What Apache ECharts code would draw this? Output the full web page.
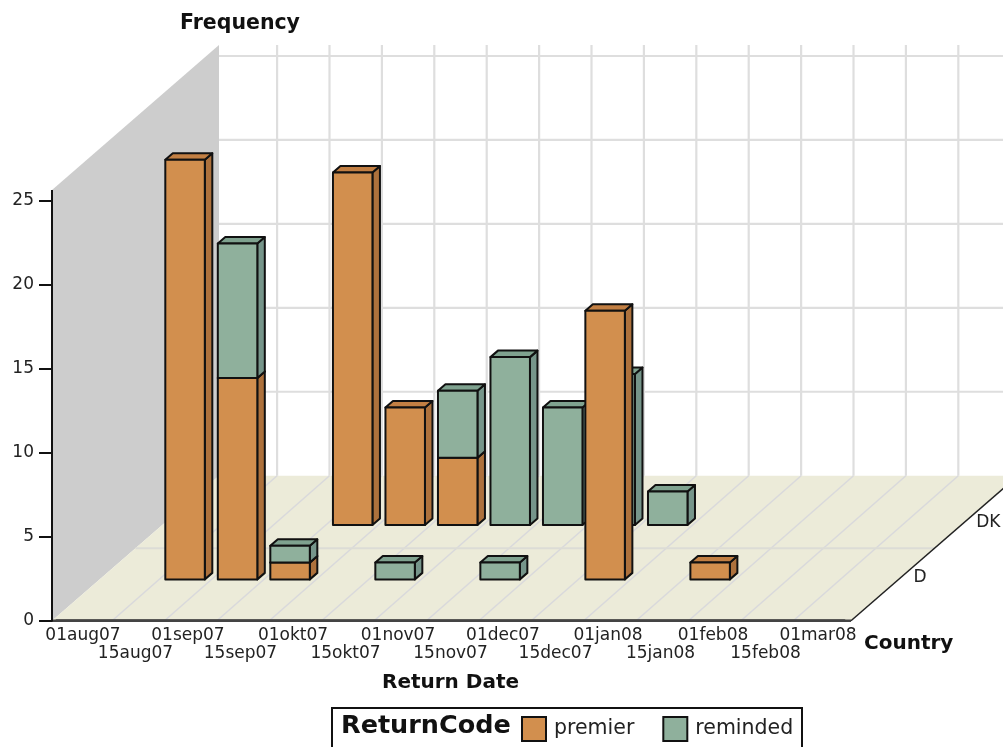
<!DOCTYPE html>
<html>
<head>
<meta charset="UTF-8">
<title>Frequency by Return Date</title>
<script src="https://cdn.jsdelivr.net/npm/echarts@6/dist/echarts.min.js"></script>
<style>
  html, body { margin: 0; padding: 0; background: #fff; overflow: hidden; }
  #myChart { width: 1003px; height: 747px; }
</style>
</head>
<body>
<div id="myChart"></div>
<script>
const dates = ['01aug07','15aug07','01sep07','15sep07','01okt07','15okt07','01nov07','15nov07',
               '01dec07','15dec07','01jan08','15jan08','01feb08','15feb08','01mar08'];
const countries = ['D', 'DK'];
const premierD    = [0,25,12,1,0,0,0,0,0,16,0,1,0,0,0];
const remindedD   = [0,0,8,1,0,1,0,1,0,0,0,0,0,0,0];
const premierDK   = [0,0,0,21,7,4,0,0,0,0,0,0,0,0,0];
const remindedDK  = [0,0,0,0,0,4,10,7,9,2,0,0,0,0,0];
const valueTicks  = [0, 25, 5];

// box depth in px, floor goes this far up and right
const depthX = 167, depthY = -145;
const rowDepth = { D: 0.285, DK: 0.66 };
const rowNudge = 2;
const barWidth = 39.5, sideX = 7.5, sideY = -6.5;
const axisFont = 'DejaVu Sans';
const colors = {
  premier:  { front: '#D28F4E', side: '#AD713C', top: '#C27F43' },
  reminded: { front: '#8FB09C', side: '#76958A', top: '#7FA28F' }
};

function shape(points, fill) {
  return { type: 'polygon', shape: { points: points },
           style: { fill: fill, stroke: '#111', lineWidth: 2, lineJoin: 'round' } };
}

function barRenderer(country, code) {
  const t = rowDepth[country];
  const c = colors[code];
  return function (params, api) {
    const i = api.value(0);
    const low = api.coord([i, api.value(1)]);
    const high = api.coord([i, api.value(2)]);
    const l = low[0] + t * depthX + rowNudge - barWidth / 2;
    const r = l + barWidth;
    const b = low[1] + t * depthY;
    const h = high[1] + t * depthY;
    return { type: 'group', children: [
      shape([[r, b], [r + sideX, b + sideY], [r + sideX, h + sideY], [r, h]], c.side),
      shape([[l, h], [r, h], [r + sideX, h + sideY], [l + sideX, h + sideY]], c.top),
      shape([[l, b], [r, b], [r, h], [l, h]], c.front)
    ] };
  };
}

function barData(values, under) {
  const out = [];
  values.forEach(function (v, i) {
    if (v > 0) {
      const base = under ? under[i] : 0;
      out.push([i, base, base + v]);
    }
  });
  return out;
}

function barSeries(name, country, values, under) {
  return { type: 'custom', name: name, renderItem: barRenderer(country, name),
           data: barData(values, under), encode: { x: 0, y: 2 }, itemStyle: { color: colors[name].front }, z: 3 };
}

function renderBackdrop(params, api) {
  const band = api.size([1, 0])[0];
  const zero = api.coord([0, 0]);
  const top = api.coord([0, valueTicks[1]]);
  const x0 = zero[0] - band / 2;
  const y0 = zero[1];
  const left = x0 - 4.7;
  const right = x0 + band * dates.length + 6.7;
  const wallTop = top[1] - 11;
  const kids = [];
  const lineStyle = { stroke: '#DEDEDE', lineWidth: 2.2 };
  function line(x1, y1, x2, y2, style) {
    kids.push({ type: 'line', shape: { x1: x1, y1: y1, x2: x2, y2: y2 }, style: style });
  }
  // grey side wall and floor
  kids.push({ type: 'polygon', shape: { points: [[left, wallTop], [left + depthX, wallTop + depthY],
    [left + depthX, y0 + depthY], [left, y0]] }, style: { fill: '#CDCDCD' } });
  kids.push({ type: 'polygon', shape: { points: [[left, y0], [right, y0],
    [right + depthX, y0 + depthY], [left + depthX, y0 + depthY]] }, style: { fill: '#ECEBD9' } });
  // back wall grid
  for (let v = valueTicks[0]; v <= valueTicks[1]; v += valueTicks[2]) {
    if (v === 0) continue;
    const y = api.coord([0, v])[1] + depthY;
    line(left + depthX, y, right + depthX, y, lineStyle);
  }
  const floorLine = { stroke: '#D9D9DC', lineWidth: 1.5 };
  for (let i = 1; i < dates.length; i++) {
    const fx = x0 + band * 0.998 * i + 3;
    line(fx + depthX - 2, wallTop + depthY, fx + depthX - 2, y0 + depthY, lineStyle);
    line(fx, y0, fx + depthX - 2, y0 + depthY, floorLine);
  }
  // mid line on the floor between the two countries
  line(left + depthX / 2, y0 + depthY / 2, right + depthX / 2, y0 + depthY / 2, { stroke: '#DCDCD6', lineWidth: 2 });
  // axis bits the grid does not reach
  line(left, y0, right, y0, { stroke: '#444', lineWidth: 2.5 });
  line(right, y0, right + depthX, y0 + depthY, { stroke: '#222', lineWidth: 1.5 });
  line(left, top[1], left, wallTop, { stroke: '#111', lineWidth: 2 });
  // country labels along the right edge
  countries.forEach(function (name) {
    const t = rowDepth[name];
    kids.push({ type: 'text', style: { text: name, x: right + t * depthX + 15, y: y0 + t * depthY - 2,
      fill: '#222', font: '17px ' + axisFont, align: 'left', verticalAlign: 'middle' } });
  });
  kids.push({ type: 'text', style: { text: 'Country', x: right + 13, y: y0 + 23,
    fill: '#111', font: 'bold 20px ' + axisFont, align: 'left', verticalAlign: 'middle' } });
  return { type: 'group', children: kids };
}

const option = {
  animation: false,
  backgroundColor: '#fff',
  grid: { left: 56.7, right: 158.7, top: 201, bottom: 126.3 },
  xAxis: {
    type: 'category', data: dates, z: 2,
    name: 'Return Date', nameLocation: 'middle', nameGap: 52,
    nameTextStyle: { fontFamily: axisFont, fontWeight: 'bold', fontSize: 20, color: '#111' },
    axisLine: { lineStyle: { color: '#444', width: 2.5 } },
    axisTick: { show: false },
    axisLabel: {
      interval: 0, margin: 6, color: '#222', fontFamily: axisFont, fontSize: 17, lineHeight: 18,
      hideOverlap: false,
      formatter: function (v, i) { return i % 2 ? '\n' + v : v; }
    }
  },
  yAxis: {
    type: 'value', min: valueTicks[0], max: valueTicks[1], interval: valueTicks[2], offset: 4.7, z: 2,
    name: 'Frequency', nameLocation: 'end', nameGap: 167,
    nameTextStyle: { fontFamily: axisFont, fontWeight: 'bold', fontSize: 20.5, color: '#111', align: 'left', padding: [0, 0, 0, 128] },
    splitLine: { show: false },
    axisLine: { show: true, lineStyle: { color: '#111', width: 2 } },
    axisTick: { show: true, length: 13, lineStyle: { color: '#111', width: 2 } },
    axisLabel: { margin: 18, color: '#222', fontFamily: axisFont, fontSize: 17 }
  },
  legend: {
    left: 516, top: 711, itemWidth: 24, itemHeight: 24, itemGap: 28,
    data: [{ name: 'premier', icon: 'rect' }, { name: 'reminded', icon: 'rect' }],
    itemStyle: { borderColor: '#111', borderWidth: 2 },
    textStyle: { fontFamily: axisFont, fontSize: 20.5, color: '#222', padding: [0, 0, 0, 3] },
    selectedMode: false
  },
  graphic: [
    { type: 'rect', shape: { x: 332, y: 708, width: 470, height: 60 },
      style: { fill: 'transparent', stroke: '#111', lineWidth: 2 }, z: 0 },
    { type: 'text', x: 341, y: 713, style: { text: 'ReturnCode', fill: '#111', font: 'bold 25.5px ' + axisFont } }
  ],
  series: [
    { type: 'custom', name: 'floor', renderItem: renderBackdrop, data: [[0, 0]], z: -1, silent: true },
    barSeries('premier', 'DK', premierDK),
    barSeries('reminded', 'DK', remindedDK, premierDK),
    barSeries('premier', 'D', premierD),
    barSeries('reminded', 'D', remindedD, premierD)
  ]
};

const myChart = echarts.init(document.getElementById('myChart'));
myChart.setOption(option);
</script>
</body>
</html>
